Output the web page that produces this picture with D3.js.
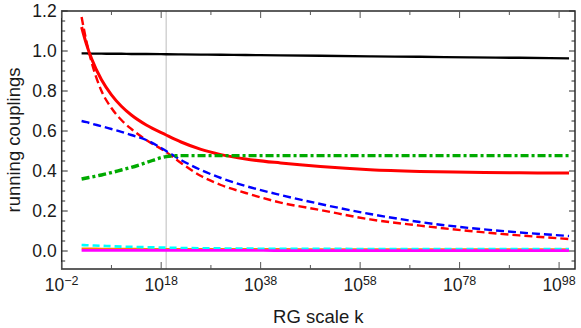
<!DOCTYPE html>
<html>
<head>
<meta charset="utf-8">
<script src="https://cdn.jsdelivr.net/npm/d3@7/dist/d3.min.js"></script>
<style>
  html, body { margin: 0; padding: 0; background: #fff; }
  svg { display: block; }
  text { font-family: "Liberation Sans", Arial, sans-serif; fill: #1a1a1a; }
</style>
</head>
<body>
<script>
// ---- data (exponent of RG scale k, i.e. k = 10^e) ----
const logK = [2, 3, 4, 6, 8, 10, 12, 15, 19, 22, 26, 30, 35, 42, 50, 60, 70, 80, 90, 100];

const blackSolid = [0.988, 0.988, 0.987, 0.987, 0.986, 0.986, 0.985, 0.985, 0.984, 0.983, 0.982, 0.981, 0.980, 0.978, 0.976, 0.973, 0.971, 0.968, 0.966, 0.963];
const redSolid   = [1.12, 1.032, 0.962, 0.856, 0.781, 0.724, 0.68, 0.63, 0.58, 0.545, 0.508, 0.482, 0.46, 0.44, 0.422, 0.406, 0.398, 0.394, 0.391, 0.39];
const redDashed  = [1.17, 1.045, 0.945, 0.80, 0.715, 0.655, 0.61, 0.555, 0.495, 0.44, 0.375, 0.33, 0.29, 0.242, 0.205, 0.158, 0.127, 0.10, 0.078, 0.06];
const blueDashed = [0.65, 0.644, 0.637, 0.624, 0.61, 0.596, 0.58, 0.555, 0.50, 0.455, 0.405, 0.365, 0.325, 0.28, 0.235, 0.185, 0.145, 0.115, 0.093, 0.075];
const greenDashDot = [0.36, 0.365, 0.37, 0.38, 0.392, 0.405, 0.418, 0.442, 0.472, 0.477, 0.477, 0.477, 0.477, 0.477, 0.477, 0.477, 0.477, 0.477, 0.477, 0.477];
const orangeSolid = [0.013, 0.013, 0.013, 0.012, 0.012, 0.012, 0.012, 0.011, 0.011, 0.011, 0.010, 0.010, 0.010, 0.010, 0.009, 0.009, 0.009, 0.009, 0.009, 0.009];
const cyanDashed = [0.030, 0.029, 0.028, 0.026, 0.024, 0.022, 0.021, 0.019, 0.017, 0.015, 0.014, 0.013, 0.012, 0.011, 0.011, 0.010, 0.010, 0.010, 0.010, 0.010];
const magentaSolid = [0.003, 0.003, 0.003, 0.003, 0.003, 0.003, 0.003, 0.003, 0.003, 0.003, 0.003, 0.003, 0.003, 0.002, 0.002, 0.002, 0.002, 0.002, 0.002, 0.002];

const xMajorExp = [-2, 18, 38, 58, 78, 98];
const xMinorExp = [8, 28, 48, 68, 88];
const yMajor = [0.0, 0.2, 0.4, 0.6, 0.8, 1.0, 1.2];
const yMinor = [-0.05, 0.05, 0.1, 0.15, 0.25, 0.3, 0.35, 0.45, 0.5, 0.55, 0.65, 0.7, 0.75, 0.85, 0.9, 0.95, 1.05, 1.1, 1.15];
const planckExp = 19;

const xTitle = "RG scale k";
const yTitle = "running couplings";

// ---- chart ----
const W = 581, H = 328;
const L = 61.7, R = 575, T = 11, B = 269;

const svg = d3.select("body").append("svg").attr("width", W).attr("height", H);

const x = d3.scaleLog().domain([1e-2, Math.pow(10, 101.2)]).range([L, R]);
const y = d3.scaleLinear().domain([-0.09, 1.2]).range([B, T]);

// Planck-scale gray line
svg.append("line")
  .attr("x1", x(Math.pow(10, planckExp))).attr("x2", x(Math.pow(10, planckExp)))
  .attr("y1", T).attr("y2", B)
  .attr("stroke", "#bdbdbd").attr("stroke-width", 1);

const series = [
  { v: blackSolid,   color: "#000000", w: 2.4, dash: null },
  { v: redSolid,     color: "#ff0000", w: 3.0, dash: null },
  { v: redDashed,    color: "#ff0000", w: 2.4, dash: "8,4" },
  { v: blueDashed,   color: "#0000ff", w: 2.4, dash: "8,4" },
  { v: greenDashDot, color: "#00aa00", w: 3.4, dash: "8,3,3,3" },
  { v: orangeSolid,  color: "#ff8000", w: 1.8, dash: null },
  { v: cyanDashed,   color: "#00ffff", w: 2.6, dash: "7,4" },
  { v: magentaSolid, color: "#ff00ff", w: 2.6, dash: null }
];

const line = d3.line()
  .x((d, i) => x(Math.pow(10, logK[i])))
  .y(d => y(d))
  .curve(d3.curveMonotoneX);

svg.append("g").selectAll("path").data(series).join("path")
  .attr("d", s => line(s.v))
  .attr("fill", "none")
  .attr("stroke", s => s.color)
  .attr("stroke-width", s => s.w)
  .attr("stroke-dasharray", s => s.dash);

// Frame
svg.append("rect")
  .attr("x", L).attr("y", T).attr("width", R - L).attr("height", B - T)
  .attr("fill", "none").attr("stroke", "#2a2a2a").attr("stroke-width", 1.5);

// X ticks (bottom and top)
const xt = svg.append("g");
function xTick(e, len) {
  const px = x(Math.pow(10, e));
  xt.append("line").attr("x1", px).attr("x2", px).attr("y1", B).attr("y2", B - len).attr("stroke", "#555").attr("stroke-width", 1);
  xt.append("line").attr("x1", px).attr("x2", px).attr("y1", T).attr("y2", T + len).attr("stroke", "#555").attr("stroke-width", 1);
}
xMajorExp.forEach(e => xTick(e, 7));
xMinorExp.forEach(e => xTick(e, 4));

// Y ticks (left and right)
const yt = svg.append("g");
function yTick(v, len) {
  const py = y(v);
  yt.append("line").attr("x1", L).attr("x2", L + len).attr("y1", py).attr("y2", py).attr("stroke", "#2a2a2a").attr("stroke-width", 1);
  yt.append("line").attr("x1", R).attr("x2", R - len).attr("y1", py).attr("y2", py).attr("stroke", "#2a2a2a").attr("stroke-width", 1);
}
yMajor.forEach(v => yTick(v, 6));
yMinor.forEach(v => yTick(v, 3.5));

// Y tick labels
const fmt = d3.format(".1f");
svg.append("g").selectAll("text").data(yMajor).join("text")
  .attr("x", L - 5).attr("y", d => y(d)).attr("dy", "0.35em")
  .attr("text-anchor", "end").attr("font-size", 17.5)
  .text(d => fmt(d));

// X tick labels (10^e)
const xl = svg.append("g").selectAll("text").data(xMajorExp).join("text")
  .attr("x", e => x(Math.pow(10, e))).attr("y", 291)
  .attr("text-anchor", "middle").attr("font-size", 17.5);
xl.append("tspan").text("10");
xl.append("tspan").attr("dy", -6).attr("font-size", 12.5).text(e => (e < 0 ? "\u2212" + (-e) : String(e)));

// Axis titles
svg.append("text")
  .attr("x", (L + R) / 2).attr("y", 323)
  .attr("text-anchor", "middle").attr("font-size", 18.5)
  .text(xTitle);

svg.append("text")
  .attr("transform", `translate(20,${(T + B) / 2}) rotate(-90)`)
  .attr("text-anchor", "middle").attr("font-size", 18.5)
  .text(yTitle);
</script>
</body>
</html>
